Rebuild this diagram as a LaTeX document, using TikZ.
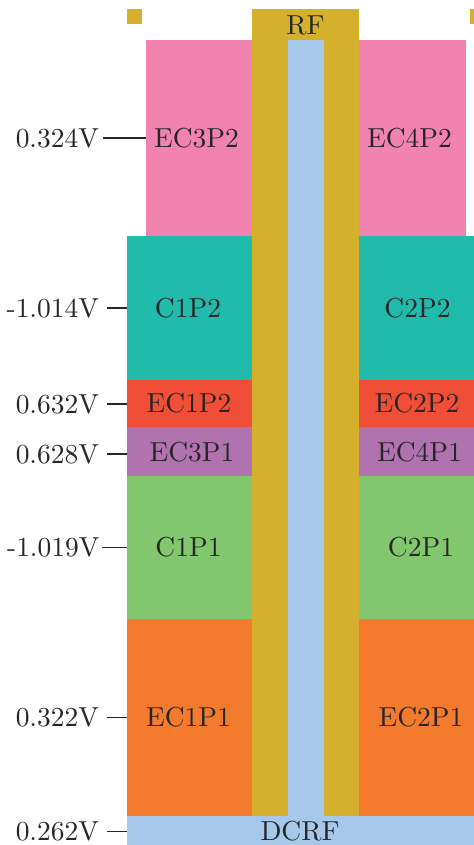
\documentclass[tikz,border=0pt]{standalone}
\begin{document}
\begin{tikzpicture}[x=0.364pt,y=-0.364pt,
  blk/.style={inner sep=0pt,outer sep=0pt,text=black!85},
  vlab/.style={anchor=east,inner sep=0pt,text=black!85},
  tick/.style={draw=black!85,line width=0.4pt}]
\definecolor{cpink}{RGB}{242,131,177}
\definecolor{cteal}{RGB}{32,187,170}
\definecolor{cred}{RGB}{240,78,55}
\definecolor{cpurple}{RGB}{176,115,176}
\definecolor{cgreen}{RGB}{130,198,110}
\definecolor{corange}{RGB}{244,123,46}
\definecolor{cgold}{RGB}{213,176,45}
\definecolor{cblue}{RGB}{166,200,234}
\useasboundingbox (0,0) rectangle (474,845);
% small gold squares
\fill[cgold] (127,9) rectangle (142,24);
\fill[cgold] (470,9) rectangle (474,24);
% left blocks
\fill[cpink] (146,40) rectangle (252,236);
\fill[cteal] (127,236) rectangle (252,380);
\fill[cred] (127,380) rectangle (252,427);
\fill[cpurple] (127,427) rectangle (252,476);
\fill[cgreen] (127,476) rectangle (252,619);
\fill[corange] (127,619) rectangle (252,816);
% right blocks
\fill[cpink] (359,40) rectangle (466,236);
\fill[cteal] (359,236) rectangle (474,380);
\fill[cred] (359,380) rectangle (474,427);
\fill[cpurple] (359,427) rectangle (474,476);
\fill[cgreen] (359,476) rectangle (474,619);
\fill[corange] (359,619) rectangle (474,816);
% RF column
\fill[cgold] (252,9) rectangle (359,816);
\fill[cblue] (288,40) rectangle (324,816);
\fill[cblue] (127,816) rectangle (474,845);
% labels
\node[blk] (rf) at (305.5,25) {RF};
\node[blk] (dcrf) at (300,831) {DCRF};
\node[blk] (ec3p2) at (196.5,138) {EC3P2};
\node[blk] (ec4p2) at (409.5,138) {EC4P2};
\node[blk] (c1p2) at (188,308) {C1P2};
\node[blk] (c2p2) at (417.5,308) {C2P2};
\node[blk] (ec1p2) at (189,403.5) {EC1P2};
\node[blk] (ec2p2) at (417,403.5) {EC2P2};
\node[blk] (ec3p1) at (192,452) {EC3P1};
\node[blk] (ec4p1) at (419.5,452) {EC4P1};
\node[blk] (c1p1) at (188.5,547.5) {C1P1};
\node[blk] (c2p1) at (421,547.5) {C2P1};
\node[blk] (ec1p1) at (188.5,717.5) {EC1P1};
\node[blk] (ec2p1) at (421,717.5) {EC2P1};
% voltage labels
\node[vlab] (v1) at (99.5,138) {0.324V};
\node[vlab] (v2) at (99.5,308) {-1.014V};
\node[vlab] (v3) at (99.5,404) {0.632V};
\node[vlab] (v4) at (99.5,454) {0.628V};
\node[vlab] (v5) at (100,547.5) {-1.019V};
\node[vlab] (v6) at (99.5,717.5) {0.322V};
\node[vlab] (v7) at (99.5,831.5) {0.262V};
\coordinate (t1) at (146,138);
\coordinate (t2) at (127,308);
\coordinate (t3) at (127,404);
\coordinate (t4) at (127,454);
\coordinate (t5) at (127,547.5);
\coordinate (t6) at (127,717.5);
\coordinate (t7) at (127,831.5);
\draw[tick] ([xshift=3.5*0.364pt]v1.east) -- (t1);
\draw[tick] ([xshift=2*0.364pt]v5.east) -- (t5);
\foreach \i in {2,3,4,6,7}{\draw[tick] ([xshift=7.5*0.364pt]v\i.east) -- (t\i);}
\end{tikzpicture}
\end{document}
